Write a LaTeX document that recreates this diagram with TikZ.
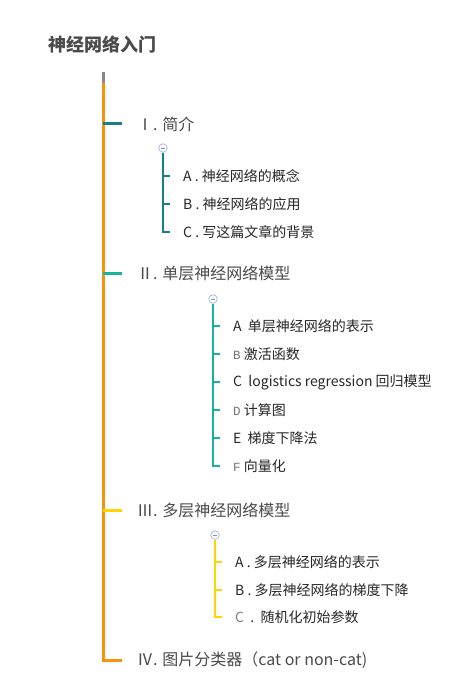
\documentclass[tikz,border=0pt]{standalone}
\usepackage{fontspec}
\setmainfont{Noto Sans CJK SC}
\newfontfamily\letterfont{Liberation Mono}
\usetikzlibrary{positioning}

\definecolor{trunkorange}{HTML}{F7920A}
\definecolor{rootgray}{HTML}{8A8A8A}
\definecolor{tealone}{HTML}{167F8F}
\definecolor{tealtwo}{HTML}{18B39B}
\definecolor{goldthree}{HTML}{FFD400}
\definecolor{knobblue}{HTML}{9DB3E6}
\definecolor{txtdark}{HTML}{4A4A4A}

\tikzset{
  title/.style={anchor=west, inner sep=0pt, font=\fontsize{18}{21}\selectfont\bfseries, text=txtdark},
  topic/.style={anchor=west, inner sep=0pt, font=\fontsize{16}{19}\selectfont, text=txtdark},
  item/.style={anchor=west, inner sep=0pt, font=\fontsize{14}{17}\selectfont, text=black!85},
  knob/.style={circle, draw=knobblue, fill=white, line width=0.7pt, minimum size=8.5pt, inner sep=0pt,
    path picture={\draw[knobblue!80!black, line width=0.7pt]
      ([xshift=-2pt]path picture bounding box.center) -- ([xshift=2pt]path picture bounding box.center);}},
  trunk/.style={draw=trunkorange, line width=3pt, shorten >=15pt},
  branch/.style={line width=3pt, shorten >=15pt},
  twig/.style={line width=2pt, shorten >=13pt},
}
\newcommand{\lt}[1]{{\letterfont\fontsize{12.5}{15}\selectfont\color{black!55}#1}}

\begin{document}
\begin{tikzpicture}[x=1pt, y=-1pt]
  \useasboundingbox (0,0) rectangle (455,695);

  % root
  \node[title] (root) at (48,45) {神经网络入门};
  \coordinate (rtop) at (103,72);
  \coordinate (rmid) at (103,83);

  % topics
  \node[topic] (t1) at (137,124) {Ⅰ. 简介};
  \node[topic] (t2) at (137,273) {Ⅱ. 单层神经网络模型};
  \node[topic] (t3) at (137,510) {Ⅲ. 多层神经网络模型};
  \node[topic] (t4) at (137,660) {Ⅳ. 图片分类器（cat or non-cat)};

  \draw[rootgray, line width=3pt] (rtop) -- (rmid);
  \draw[trunk] (rmid) |- (t4.west);
  \draw[branch, tealone]   (rmid |- t1) -- (t1.west);
  \draw[branch, tealtwo]   (rmid |- t2) -- (t2.west);
  \draw[branch, goldthree] (rmid |- t3) -- (t3.west);

  % I
  \node[knob] (k1) at (163,148) {};
  \node[item] (i11) at (183,176) {A .\ 神经网络的概念};
  \node[item] (i12) at (183,204) {B .\ 神经网络的应用};
  \node[item] (i13) at (183,232) {C .\ 写这篇文章的背景};
  \draw[twig, tealone] (k1.south) |- (i13.west);
  \draw[twig, tealone] (k1 |- i11) -- (i11.west);
  \draw[twig, tealone] (k1 |- i12) -- (i12.west);

  % II
  \node[knob] (k2) at (213,299) {};
  \node[item] (i21) at (233,326) {A\ \ 单层神经网络的表示};
  \node[item] (i22) at (233,354) {\lt{B}\ 激活函数};
  \node[item] (i23) at (233,382) {C\ \ logistics regression 回归模型};
  \node[item] (i24) at (233,410) {\lt{D}\ 计算图};
  \node[item] (i25) at (233,438) {E\ \ 梯度下降法};
  \node[item] (i26) at (233,466) {\lt{F}\ 向量化};
  \draw[twig, tealtwo] (k2.south) |- (i26.west);
  \foreach \n in {i21,i22,i23,i24,i25}
    \draw[twig, tealtwo] (k2 |- \n) -- (\n.west);

  % III
  \node[knob] (k3) at (215,535) {};
  \node[item] (i31) at (235,562) {A .\ 多层神经网络的表示};
  \node[item] (i32) at (235,590) {B .\ 多层神经网络的梯度下降};
  \node[item] (i33) at (235,617) {{\color{black!50}C}\ \ .\ \ 随机化初始参数};
  \draw[twig, goldthree] (k3.south) |- (i33.west);
  \draw[twig, goldthree] (k3 |- i31) -- (i31.west);
  \draw[twig, goldthree] (k3 |- i32) -- (i32.west);
\end{tikzpicture}
\end{document}
